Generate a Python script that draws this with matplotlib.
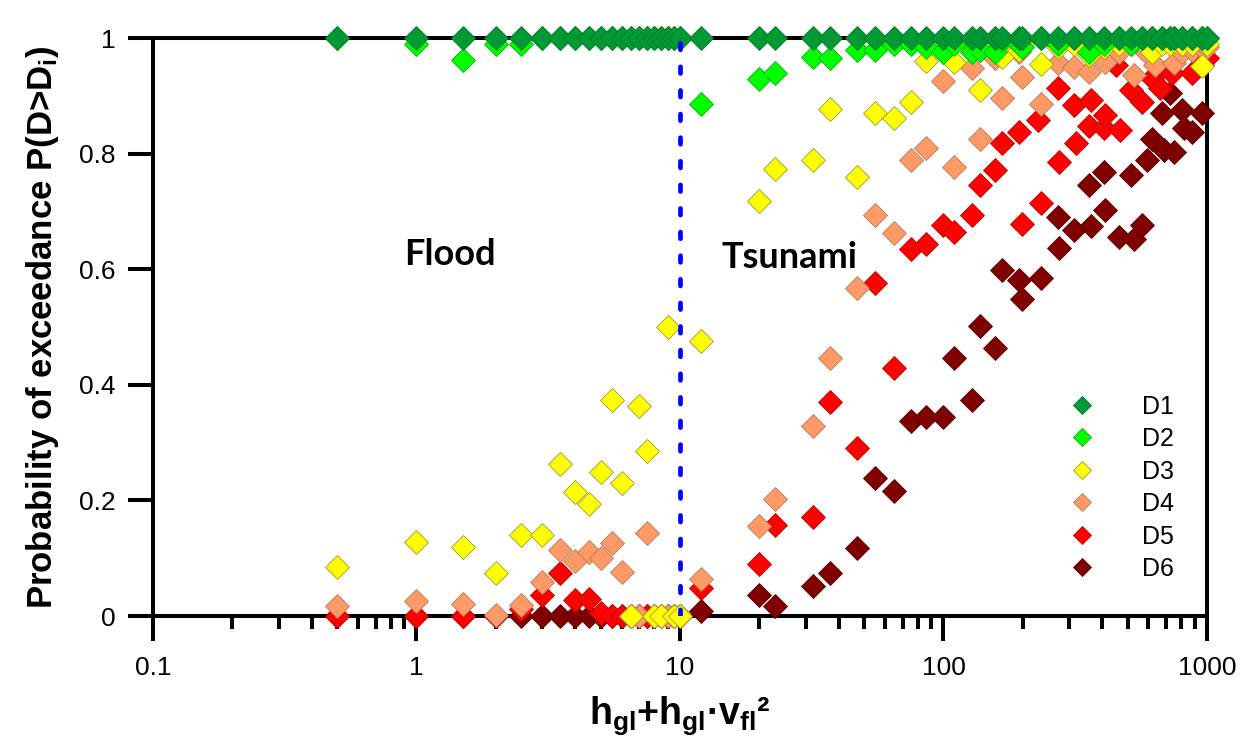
import matplotlib
matplotlib.use("Agg")
import matplotlib.pyplot as plt
from matplotlib.ticker import FixedLocator, FixedFormatter, NullFormatter, LogLocator

plt.rcParams['font.family'] = ['Liberation Sans', 'DejaVu Sans']
plt.rcParams['mathtext.fontset'] = 'custom'
plt.rcParams['mathtext.rm'] = 'Liberation Sans:bold'
plt.rcParams['mathtext.it'] = 'Liberation Sans:bold'
plt.rcParams['mathtext.bf'] = 'Liberation Sans:bold'

# ---- data ----
flood_x = [0.5, 1, 1.5, 2, 2.5, 3, 3.5, 4, 4.5, 5, 5.5, 6, 6.5, 7, 7.5, 8, 8.5, 9, 9.5, 10]

d1_x = flood_x + [12, 20, 23, 32, 37, 47, 55, 65, 75, 86, 100, 110, 128, 138, 157, 167, 194, 199,
                  234, 271, 313, 357, 406, 463, 513, 567, 619, 676, 727, 748, 805, 879, 958, 1000]
d1_y = [1, 1, 1, 1, 1, 1, 1, 1, 1, 1, 1, 1, 1, 1, 1, 1, 1, 1, 1, 1,
        1, 1, 1, 1, 1, 1, 1, 1, 1, 1, 1, 1, 1, 1, 1, 1, 1, 1,
        1, 1, 1, 1, 1, 1, 1, 1, 1, 1, 1, 1, 1, 1, 1, 1]

d2_x = d1_x
d2_y = [1.0, 0.99, 0.962, 0.99, 0.99, 1, 1, 1, 1, 1, 1, 1, 1, 1, 1, 1, 1, 1, 1, 1,
        0.886, 0.929, 0.939, 0.967, 0.965, 0.979, 0.979, 0.99, 0.99, 0.985, 0.976, 0.99, 0.976, 0.98,
        0.975, 0.995, 0.99, 0.985, 1.0, 0.99, 1.0, 0.975, 0.99, 1.0, 0.99, 1.0, 1.0, 1.0, 1.0, 1.0,
        1.0, 1.0, 1.0, 1.0]

d3_x = d1_x
d3_y = [0.084, 0.128, 0.119, 0.074, 0.141, 0.141, 0.263, 0.214, 0.194, 0.250, 0.374, 0.230, 0.0,
        0.363, 0.285, 0.0, 0.0, 0.50, 0.0, 0.0,
        0.476, 0.718, 0.773, 0.789, 0.877, 0.760, 0.871, 0.862, 0.890, 0.960, 0.975, 0.958, 0.98,
        0.910, 0.985, 0.968, 0.98, 0.99, 0.955, 0.985, 0.99, 0.97, 0.985, 0.99, 0.99, 0.995, 0.975,
        0.99, 0.99, 0.995, 0.99, 0.99, 0.952, 0.99]

d4_x = flood_x + [12, 20, 23, 32, 37, 47, 55, 65, 75, 86, 100, 110, 128, 138, 157, 167, 194, 199,
                  234, 271, 313, 357, 406, 412, 463, 528, 567, 593, 637, 748, 805, 879, 958, 1000]
d4_y = [0.018, 0.026, 0.021, 0.002, 0.019, 0.059, 0.114, 0.096, 0.111, 0.100, 0.126, 0.077, 0.0,
        0.0, 0.143, 0.0, 0.0, 0.0, 0.0, 0.0,
        0.064, 0.155, 0.202, 0.329, 0.446, 0.567, 0.694, 0.663, 0.789, 0.810, 0.926, 0.777, 0.948,
        0.826, 0.965, 0.897, 0.975, 0.933, 0.885, 0.956, 0.950, 0.942, 0.975, 0.959, 0.976, 0.936,
        0.985, 0.974, 0.953, 0.956, 0.975, 0.98, 0.985, 0.985]

d5_x = flood_x + [12, 20, 23, 32, 37, 47, 55, 65, 75, 86, 100, 110, 128, 138, 157, 167, 194, 199,
                  229, 234, 271, 274, 313, 318, 357, 362, 406, 412, 450, 466, 513, 567, 619, 664,
                  738, 879, 958, 1000]
d5_y = [0.0, 0.0, 0.0, 0.0, 0.012, 0.036, 0.074, 0.028, 0.029, 0.005, 0.0, 0.0, 0.0, 0.0, 0.0,
        0.0, 0.0, 0.0, 0.0, 0.0,
        0.048, 0.090, 0.157, 0.172, 0.370, 0.290, 0.576, 0.429, 0.635, 0.643, 0.676, 0.665, 0.694,
        0.746, 0.772, 0.818, 0.838, 0.678, 0.858, 0.714, 0.913, 0.786, 0.884, 0.818, 0.847, 0.893,
        0.844, 0.867, 0.953, 0.841, 0.910, 0.890, 0.930, 0.913, 0.939, 0.939, 0.953, 0.965]

d6_x = flood_x + [12, 20, 23, 32, 37, 47, 55, 65, 75, 86, 100, 110, 128, 138, 157, 167, 194, 199,
                  234, 271, 274, 313, 357, 362, 406, 412, 463, 513, 528, 567, 593, 619, 676, 690,
                  727, 748, 805, 817, 879, 958]
d6_y = [0.0, 0.0, 0.0, 0.0, 0.0, 0.0, 0.0, 0.0, 0.0, 0.0, 0.0, 0.0, 0.0, 0.0, 0.0, 0.0, 0.0, 0.0,
        0.0, 0.0,
        0.009, 0.037, 0.018, 0.052, 0.075, 0.117, 0.238, 0.217, 0.337, 0.344, 0.344, 0.447, 0.374,
        0.502, 0.463, 0.598, 0.581, 0.549, 0.584, 0.691, 0.636, 0.668, 0.746, 0.674, 0.769, 0.702,
        0.656, 0.763, 0.653, 0.676, 0.789, 0.826, 0.870, 0.806, 0.904, 0.803, 0.875, 0.844, 0.838,
        0.870]

names = ['D1', 'D2', 'D3', 'D4', 'D5', 'D6']
colors = ['#009933', '#00ff00', '#ffff00', '#ff9966', '#ff0000', '#800000']
edges = ['#007a29', '#00b000', '#9a9a30', '#b07a5a', '#c00000', '#5a0000']
xs = [d1_x, d2_x, d3_x, d4_x, d5_x, d6_x]
ys = [d1_y, d2_y, d3_y, d4_y, d5_y, d6_y]

x_ticks = [0.1, 1, 10, 100, 1000]
x_ticklabels = ['0.1', '1', '10', '100', '1000']
y_ticks = [0, 0.2, 0.4, 0.6, 0.8, 1]
y_ticklabels = ['0', '0.2', '0.4', '0.6', '0.8', '1']

fig = plt.figure(figsize=(12.48, 7.38), dpi=100)
ax = fig.add_axes([0.1226, 0.1653, 0.8445, 0.7832])

handles = [None] * 6
for i in range(5, -1, -1):
    h, = ax.plot(xs[i], ys[i], linestyle='none', marker='D', ms=12,
                 mfc=colors[i], mec=edges[i], mew=0.6, clip_on=False, zorder=3 + (5 - i))
    handles[i] = h

# flood / tsunami boundary
ax.plot([10, 10], [0, 1], color='#0000ff', lw=3.4, linestyle=(0, (1.4, 3.6)),
        dash_capstyle='round', zorder=20)

ax.text(1.34, 0.625, 'Flood', fontsize=26, fontweight='bold', family='Lato',
        ha='center', va='center')
ax.text(26, 0.621, 'Tsunami', fontsize=26, fontweight='bold', family='Lato',
        ha='center', va='center')

ax.set_xscale('log')
ax.set_xlim(0.1, 1000)
ax.set_ylim(0, 1)
ax.xaxis.set_major_locator(FixedLocator(x_ticks))
ax.xaxis.set_major_formatter(FixedFormatter(x_ticklabels))
ax.xaxis.set_minor_locator(LogLocator(base=10, subs=[2, 3, 4, 5, 6, 7, 8, 9]))
ax.xaxis.set_minor_formatter(NullFormatter())
ax.yaxis.set_major_locator(FixedLocator(y_ticks))
ax.yaxis.set_major_formatter(FixedFormatter(y_ticklabels))

for s in ax.spines.values():
    s.set_linewidth(2.9)
ax.tick_params(which='major', direction='out', length=18, width=2.9, labelsize=19, pad=9)
ax.tick_params(axis='x', which='minor', direction='out', length=9.5, width=2.9)
ax.tick_params(axis='x', which='major', pad=11)

ax.set_xlabel(r'h$\mathregular{_{gl}}$+h$\mathregular{_{gl}}$·v$\mathregular{_{fl}}$²',
              fontsize=27, fontweight='bold', labelpad=10)
ax.set_ylabel(r'Probability of exceedance P(D>D$\mathregular{_i}$)', fontsize=25,
              fontweight='bold', labelpad=13)

leg = ax.legend(handles, names, loc='upper left', bbox_to_anchor=(0.8693, 0.383),
                frameon=False, fontsize=18, markerscale=0.8, handlelength=1.0,
                handletextpad=1.9, labelspacing=0.34, borderpad=0, borderaxespad=0)

fig.savefig('out.png', dpi=100)
